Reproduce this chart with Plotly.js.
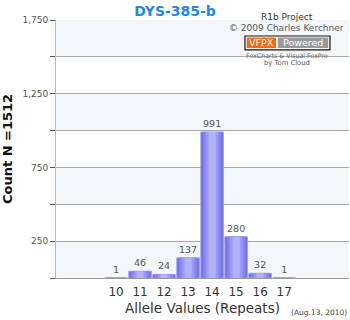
<!DOCTYPE html>
<html><head><meta charset="utf-8">
<script src="https://cdn.plot.ly/plotly-3.0.1.min.js"></script>
<style>html,body{margin:0;padding:0;background:#fff}#chart{width:350px;height:320px}</style>
</head><body><div id="chart"></div>
<script>
const alleles = [10, 11, 12, 13, 14, 15, 16, 17];
const counts = [1, 46, 24, 137, 991, 280, 32, 1];
const yTickVals = [0, 250, 500, 750, 1000, 1250, 1500, 1750];
const yTickText = ['', '250', '', '750', '', '1,250', '', '1,750'];
const bandStarts = [0, 500, 1000, 1500];

const font = 'DejaVu Sans, Verdana, sans-serif';
const layers = [
  {w: 0.94, c: '#7070e8'},
  {w: 0.76, c: '#8484ef'},
  {w: 0.54, c: '#9a9af5'},
  {w: 0.30, c: '#b2b2fa'}
];
const traces = layers.map((l, i) => ({
  type: 'bar', x: alleles, y: counts, width: l.w,
  marker: {color: l.c, line: {width: i === 0 ? 1 : 0, color: '#a0a0f6'}},
  text: i === 0 ? counts.map(String) : undefined,
  textposition: i === 0 ? 'outside' : 'none',
  textfont: {family: font, size: 9.5, color: '#555'},
  cliponaxis: false,
  hoverinfo: 'skip', showlegend: false
}));

const shapes = bandStarts.map(b => ({
  type: 'rect', xref: 'paper', yref: 'y', x0: 0, x1: 1, y0: b, y1: b + 250,
  fillcolor: '#f3f7f9', line: {width: 0}, layer: 'below'
}));
// VFPX Powered logo
shapes.push({type: 'rect', xref: 'paper', yref: 'paper', x0: 0.645, x1: 0.935, y0: 0.884, y1: 0.938, line: {color: '#111', width: 1.2}, fillcolor: '#fff'});
shapes.push({type: 'rect', xref: 'paper', yref: 'paper', x0: 0.651, x1: 0.751, y0: 0.891, y1: 0.932, line: {width: 0}, fillcolor: '#f26a12'});
shapes.push({type: 'rect', xref: 'paper', yref: 'paper', x0: 0.757, x1: 0.929, y0: 0.891, y1: 0.932, line: {width: 0}, fillcolor: '#9a9a9a'});

const ann = (x, y, text, size, color, xanchor) => ({
  xref: 'paper', yref: 'paper', x: x, y: y, xanchor: xanchor || 'center', yanchor: 'middle',
  text: text, showarrow: false, font: {family: font, size: size, color: color}
});

const layout = {
  width: 350, height: 320,
  margin: {l: 56, r: 1, t: 20, b: 42},
  paper_bgcolor: '#fff', plot_bgcolor: '#fff',
  barmode: 'overlay',
  title: {text: '<b>DYS-385-b</b>', font: {family: font, size: 14, color: '#1e88f0'}, x: 0.5, xanchor: 'center', y: 0.965, yanchor: 'middle'},
  xaxis: {
    range: [7.5, 19.7], tickvals: alleles, ticktext: alleles.map(String),
    tickfont: {family: font, size: 12, color: '#333'}, ticklabelstandoff: 3,
    showgrid: false, zeroline: false, showline: true, linecolor: '#999', linewidth: 1,
    ticks: '', title: {text: 'Allele Values (Repeats)', font: {family: font, size: 13.5, color: '#333'}, standoff: 5}
  },
  yaxis: {
    range: [0, 1750], tickvals: yTickVals, ticktext: yTickText,
    tickfont: {family: font, size: 9, color: '#555'},
    showgrid: true, gridcolor: '#a8a8a8', gridwidth: 1,
    zeroline: false, showline: true, linecolor: '#bbb', linewidth: 1,
    ticks: 'outside', ticklen: 5, tickcolor: '#555',
    title: {text: '<b>Count N =1512</b>', font: {family: font, size: 13, color: '#111'}, standoff: 14}
  },
  shapes: shapes,
  annotations: [
    ann(0.788, 1.012, 'R1b Project', 9, '#333'),
    ann(0.787, 0.969, '© 2009 Charles Kerchner', 9, '#555'),
    ann(0.701, 0.911, 'VFPX', 9.5, '#fff'),
    ann(0.843, 0.911, 'Powered', 9.5, '#fff'),
    ann(0.787, 0.864, 'FoxCharts &amp; Visual FoxPro', 6.3, '#666'),
    ann(0.787, 0.833, 'by Tom Cloud', 6.8, '#555'),
    ann(1.0, -0.135, '(Aug.13, 2010)', 7.5, '#444', 'right')
  ]
};

Plotly.newPlot('chart', traces, layout, {displayModeBar: false, staticPlot: true});
</script></body></html>
